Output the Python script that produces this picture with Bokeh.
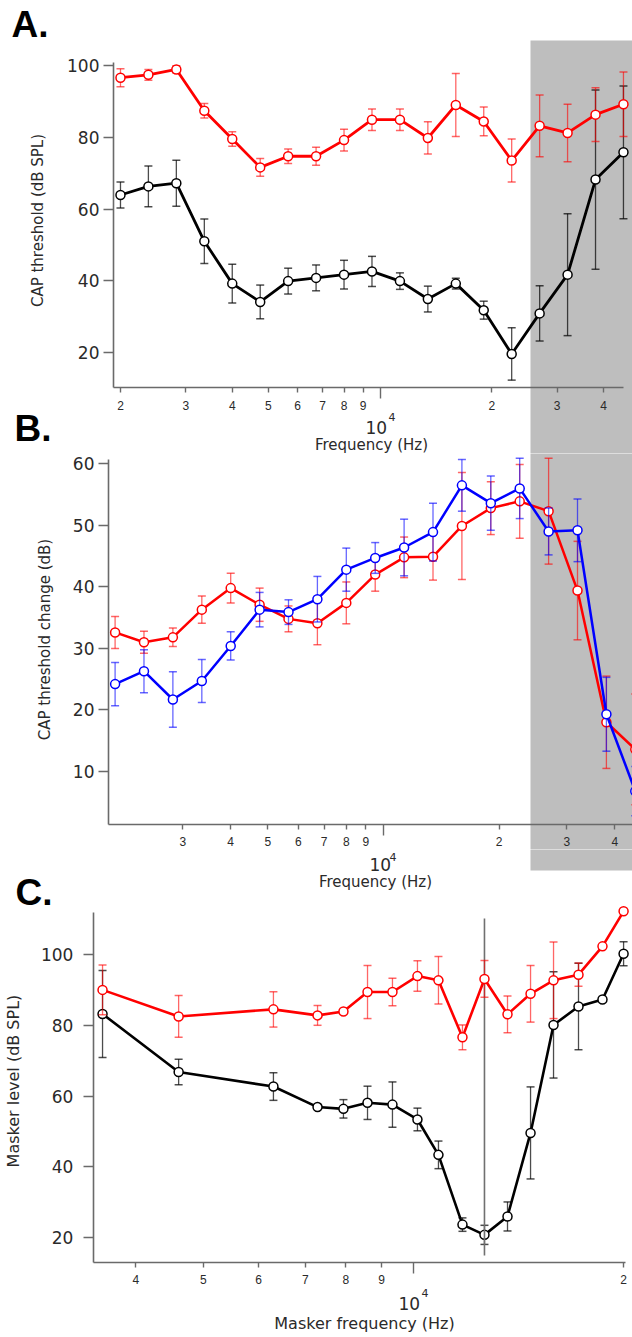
import math
from bokeh.plotting import figure
from bokeh.models import (FixedTicker, LogAxis, LinearAxis, BoxAnnotation,
                          Label, Range1d)
from bokeh.layouts import column
from bokeh.embed import file_html
from bokeh.resources import INLINE

# ---------------- data ----------------
# Panels A and B: probe frequencies (Hz)
freq_ab = [2000, 2378, 2828, 3364, 4000, 4757, 5657, 6727, 8000, 9514,
           11314, 13454, 16000, 19027, 22627, 26909, 32000, 38055, 45255]

# Panel A: CAP threshold (dB SPL)
a_red = [96.6, 97.4, 98.9, 87.4, 79.5, 71.6, 74.7, 74.7, 79.2, 84.9,
         84.9, 79.8, 89.0, 84.4, 73.5, 83.2, 81.2, 86.3, 89.2]
a_red_err = [2.5, 1.5, 1.0, 2.0, 2.0, 2.5, 2.0, 2.5, 3.0, 3.0,
             3.0, 4.5, 8.8, 4.0, 6.0, 8.6, 8.0, 7.5, 9.0]
a_black = [63.9, 66.3, 67.2, 51.0, 39.2, 34.1, 39.9, 40.8, 41.7, 42.6,
           39.9, 34.9, 39.2, 31.8, 19.6, 30.9, 41.7, 68.2, 75.8]
a_black_err = [3.6, 5.7, 6.4, 6.2, 5.4, 4.7, 3.6, 3.6, 4.0, 4.2,
               2.3, 3.6, 1.5, 2.5, 7.3, 7.7, 17.0, 25.0, 18.5]

# Panel B: CAP threshold change (dB)
b_red = [32.6, 31.0, 31.8, 36.3, 39.8, 37.1, 34.8, 34.1, 37.4, 42.0,
         44.8, 44.9, 49.9, 52.8, 53.9, 52.3, 39.4, 18.0, 13.6]
b_red_err = [2.6, 1.8, 1.5, 2.2, 2.4, 2.7, 2.1, 3.5, 3.4, 2.7,
             3.3, 3.8, 8.7, 4.3, 6.0, 8.6, 8.0, 7.5, 9.0]
b_blue = [24.2, 26.3, 21.7, 24.7, 30.4, 36.3, 35.9, 38.0, 42.8, 44.7,
          46.4, 48.9, 56.5, 53.6, 56.0, 49.0, 49.2, 19.3, 6.8]
b_blue_err = [3.5, 3.5, 4.5, 3.5, 2.3, 2.8, 2.0, 3.7, 3.5, 2.5,
              4.6, 4.7, 4.2, 4.4, 4.9, 3.8, 5.1, 6.0, 4.0]

# Panel C: masker frequencies (Hz) and masker level (dB SPL)
freq_c = [3585, 4608, 6300, 7287, 7937, 8593, 9330, 10132, 10859, 11754,
          12639, 13637, 14714, 15873, 17236, 18655, 20000]
c_red = [90.0, 82.5, 84.5, 82.8, 83.9, 89.4, 89.4, 93.9, 92.7, 76.6,
         93.1, 83.1, 88.9, 92.7, 94.3, 102.3, 112.2]
c_red_err = [7.0, 5.9, 5.0, 2.8, 0.0, 7.5, 3.9, 4.3, 6.7, 3.5,
             5.2, 5.2, 8.0, 10.8, 3.3, 0.0, 0.0]
c_black = [83.2, 66.8, 62.7, 56.9, 56.4, 58.1, 57.6, 53.4, 43.4, 23.7,
           20.8, 26.0, 49.6, 80.1, 85.3, 87.3, 100.2]
c_black_err = [12.3, 3.6, 3.9, 0.0, 2.6, 4.7, 6.4, 3.2, 3.9, 1.9,
               2.7, 4.1, 13.0, 15.0, 12.2, 0.0, 3.4]
probe_freq = 12639
probe_line = [15.0, 110.2]

# tick values / labels
a_xticks = [2000, 3000, 4000, 5000, 6000, 7000, 8000, 9000, 20000, 30000, 40000]
a_xlabels = ["2", "3", "4", "5", "6", "7", "8", "9", "2", "3", "4"]
b_xticks = [3000, 4000, 5000, 6000, 7000, 8000, 9000, 20000, 30000, 40000]
b_xlabels = ["3", "4", "5", "6", "7", "8", "9", "2", "3", "4"]
c_xticks = [4000, 5000, 6000, 7000, 8000, 9000, 20000]
c_xlabels = ["4", "5", "6", "7", "8", "9", "2"]
decade_tick = [10000]
a_yticks = [20, 40, 60, 80, 100]
b_yticks = [10, 20, 30, 40, 50, 60]
c_yticks = [20, 40, 60, 80, 100]

RED = "#ff0000"
BLACK = "#000000"
BLUE = "#0000ff"
AXC = "#6a6a6a"
TXT = "#2a2a2a"
GRAY = "#bebebe"


def make_fig(height, xr, yr):
    p = figure(width=632, height=height, x_axis_type="log",
               x_axis_location=None, y_axis_location=None,
               x_range=Range1d(*xr), y_range=Range1d(*yr),
               output_backend="svg", toolbar_location=None, title=None,
               min_border=0, min_border_left=0, min_border_right=0,
               min_border_top=0, min_border_bottom=0)
    p.xgrid.visible = False
    p.ygrid.visible = False
    p.outline_line_color = None
    p.background_fill_color = "white"
    p.border_fill_color = "white"
    return p


def add_axes(p, y_at, y_bounds, yticks, ystand, x_at, x_bounds, xticks, xlabels):
    ya = LinearAxis(fixed_location=y_at, bounds=y_bounds,
                    ticker=FixedTicker(ticks=yticks),
                    major_tick_out=10, major_tick_in=0,
                    minor_tick_out=0, minor_tick_in=0,
                    axis_line_color=AXC, axis_line_width=1.6,
                    major_tick_line_color=AXC, major_tick_line_width=1.6,
                    major_label_text_font="DejaVu Sans",
                    major_label_text_font_size="17px",
                    major_label_text_color=TXT,
                    major_label_standoff=ystand)
    p.add_layout(ya, "left")
    xa = LogAxis(fixed_location=x_at, bounds=x_bounds,
                 ticker=FixedTicker(ticks=xticks, minor_ticks=decade_tick),
                 major_label_overrides={t: s for t, s in zip(xticks, xlabels)},
                 major_tick_out=5, major_tick_in=0,
                 minor_tick_out=11, minor_tick_in=0,
                 axis_line_color=AXC, axis_line_width=1.6,
                 major_tick_line_color=AXC, major_tick_line_width=1.4,
                 minor_tick_line_color=AXC, minor_tick_line_width=1.4,
                 major_label_text_font="Liberation Sans",
                 major_label_text_font_size="12px",
                 major_label_text_color=TXT,
                 major_label_standoff=2)
    p.add_layout(xa, "below")


def series(p, x, y, err, color, lw=2.8, bar_alpha=0.6):
    xs = [xi for xi, e in zip(x, err) if e > 0]
    lo = [yi - e for yi, e in zip(y, err) if e > 0]
    hi = [yi + e for yi, e in zip(y, err) if e > 0]
    p.segment(x0=xs, y0=lo, x1=xs, y1=hi, line_color=color,
              line_alpha=bar_alpha, line_width=1.3)
    p.scatter(xs, lo, marker="dash", size=8, line_color=color,
              line_alpha=bar_alpha, line_width=1.5)
    p.scatter(xs, hi, marker="dash", size=8, line_color=color,
              line_alpha=bar_alpha, line_width=1.5)
    p.line(x, y, line_color=color, line_width=lw)
    p.scatter(x, y, marker="circle", size=9, fill_color="white",
              line_color=color, line_width=1.5)


def text(p, s, x, y, size, bold=False, font="DejaVu Sans", angle=0.0,
         align="left"):
    p.add_layout(Label(x=x, y=y, x_units="screen", y_units="screen",
                       text=s, text_font=font, text_font_size=size,
                       text_font_style="bold" if bold else "normal",
                       text_color="black" if bold else TXT,
                       angle=angle, text_align=align,
                       text_baseline="middle"))


def gray_box(p, left, right, top, bottom):
    p.add_layout(BoxAnnotation(left=left, right=right, top=top, bottom=bottom,
                               left_units="screen", right_units="screen",
                               top_units="screen", bottom_units="screen",
                               fill_color=GRAY, fill_alpha=1.0,
                               line_color=None, level="underlay"))


# ---------------- Panel A (page rows 0..453) ----------------
pA = make_fig(453, (950.4, 47863), (-8.153, 118.12))
gray_box(pA, 530, 650, 413, -20)
add_axes(pA, 1915.2, (10.24, 100.84), a_yticks, 4,
         10.24, (1915.2, 45270), a_xticks, a_xlabels)
series(pA, freq_ab, a_black, a_black_err, BLACK, bar_alpha=0.7)
series(pA, freq_ab, a_red, a_red_err, RED)
text(pA, "A.", 11, 429, "37px", bold=True, font="Liberation Sans")
text(pA, "B.", 14, 25, "37px", bold=True, font="Liberation Sans")
text(pA, "CAP threshold (dB SPL)", 37, 233, "15px", angle=math.pi / 2,
     align="center")
text(pA, "10", 365, 26.5, "17px")
text(pA, "4", 388, 36.5, "11px")
text(pA, "Frequency (Hz)", 371, 8.5, "15px", align="center")

# ---------------- Panel B (page rows 453..849) ----------------
pB = make_fig(396, (1006.0, 44500), (-2.675, 61.674))
gray_box(pB, 530, 650, 420, -20)
add_axes(pB, 1922.3, (1.39, 60.7), b_yticks, 4,
         1.39, (1922.3, 44500), b_xticks, b_xlabels)
series(pB, freq_ab, b_red, b_red_err, RED, lw=2.5)
series(pB, freq_ab, b_blue, b_blue_err, BLUE, lw=2.5)
text(pB, "CAP threshold change (dB)", 44, 210, "15px", angle=math.pi / 2,
     align="center")

# ---------------- Panel C (page rows 849..1337) ----------------
pC = make_fig(488, (2560.3, 20597), (-8.192, 129.66))
gray_box(pC, 530, 650, 520, 467)
# lower labels of panel B live in this canvas
text(pC, "10", 369, 473, "17px")
text(pC, "4", 389, 481, "11px")
text(pC, "Frequency (Hz)", 375, 456, "15px", align="center")
text(pC, "C.", 15, 445, "37px", bold=True, font="Liberation Sans")
add_axes(pC, 3478, (13.0, 111.9), c_yticks, 10,
         13.0, (3478, 20124), c_xticks, c_xlabels)
series(pC, freq_c, c_black, c_black_err, BLACK, lw=2.6, bar_alpha=0.7)
pC.segment(x0=[probe_freq], y0=[probe_line[0]], x1=[probe_freq],
           y1=[probe_line[1]], line_color="#707070", line_width=1.6)
series(pC, freq_c, c_red, c_red_err, RED, lw=2.6)
text(pC, "Masker level  (dB SPL)", 13, 259, "16px", angle=math.pi / 2,
     align="center")
text(pC, "10", 398, 34.5, "17px")
text(pC, "4", 421, 44.5, "11px")
text(pC, "Masker frequency (Hz)", 364, 14, "16px", align="center")

layout = column(pA, pB, pC, spacing=0)
open("out.html", "w").write(file_html(layout, INLINE))
